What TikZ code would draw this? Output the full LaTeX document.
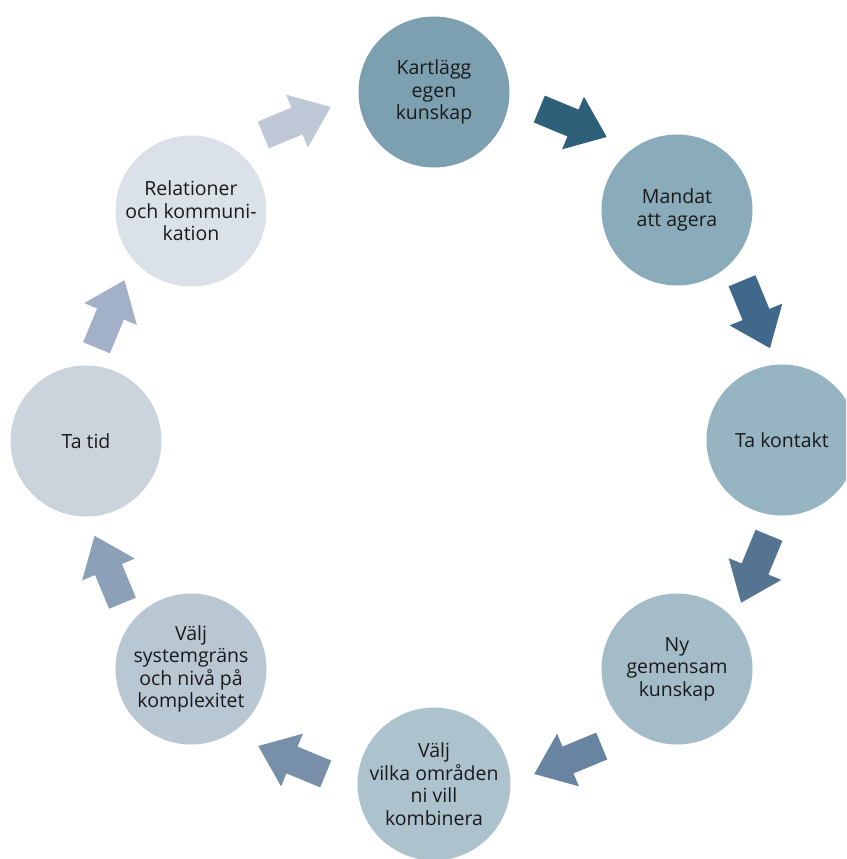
\documentclass[tikz,border=0pt]{standalone}
\usepackage{fontspec}
\setmainfont{Open Sans}
\definecolor{txt}{HTML}{1A1A1A}
\definecolor{c1}{HTML}{7CA0B0}
\definecolor{c2}{HTML}{8AABB9}
\definecolor{c3}{HTML}{96B4C1}
\definecolor{c4}{HTML}{A3BCC8}
\definecolor{c5}{HTML}{ACC2CD}
\definecolor{c6}{HTML}{B9C7D2}
\definecolor{c7}{HTML}{CBD3DD}
\definecolor{c8}{HTML}{DBE1E8}
\definecolor{a1}{HTML}{2F607A}
\definecolor{a2}{HTML}{40688A}
\definecolor{a3}{HTML}{547492}
\definecolor{a4}{HTML}{6884A0}
\definecolor{a5}{HTML}{788FAA}
\definecolor{a6}{HTML}{8CA0B8}
\definecolor{a7}{HTML}{A2B1C7}
\definecolor{a8}{HTML}{BEC8D7}
\begin{document}
\begin{tikzpicture}[x=1pt,y=-1pt,
  stepc/.style={circle, inner sep=0pt, minimum size=151pt, align=center,
    font=\fontsize{19.5}{22.5}\selectfont, text=txt},
  pics/barrow/.style={code={\fill[#1] (-36.5,-14.5) -- (0,-14.5) -- (0,-28.5)
      -- (36.5,0) -- (0,28.5) -- (0,14.5) -- (-36.5,14.5) -- cycle;}}
]
\useasboundingbox (0,0) rectangle (846,859);
\clip (0,0) rectangle (846,859);
\fill[white] (0,0) rectangle (846,859);

\node[stepc, fill=c1] (n1) at (434,92)  {Kartlägg\\egen\\kunskap};
\node[stepc, fill=c2] (n2) at (677,210) {Mandat\\att agera};
\node[stepc, fill=c3] (n3) at (782,440) {Ta kontakt};
\node[stepc, fill=c4] (n4) at (677,669) {Ny\\gemensam\\kunskap};
\node[stepc, fill=c5] (n5) at (434,784) {Välj\\vilka områden\\ni vill\\kombinera};
\node[stepc, fill=c6] (n6) at (191,669) {Välj\\systemgräns\\och nivå på\\komplexitet};
\node[stepc, fill=c7] (n7) at (86,441)  {Ta tid};
\node[stepc, fill=c8] (n8) at (191,211) {Relationer\\och kommuni-\\kation};

\pic[rotate=-22.5]  (ar1) at (573,123)   {barrow=a1};
\pic[rotate=-67.5]  (ar2) at (756,314.5) {barrow=a2};
\pic[rotate=-112.5] (ar3) at (755,569)   {barrow=a3};
\pic[rotate=-157.5] (ar4) at (568,760)   {barrow=a4};
\pic[rotate=157.5]  (ar5) at (292,760)   {barrow=a5};
\pic[rotate=112.5]  (ar6) at (108.5,569.5) {barrow=a6};
\pic[rotate=67.5]   (ar7) at (110.5,314) {barrow=a7};
\pic[rotate=22.5]   (ar8) at (297,121)   {barrow=a8};
\end{tikzpicture}
\end{document}
